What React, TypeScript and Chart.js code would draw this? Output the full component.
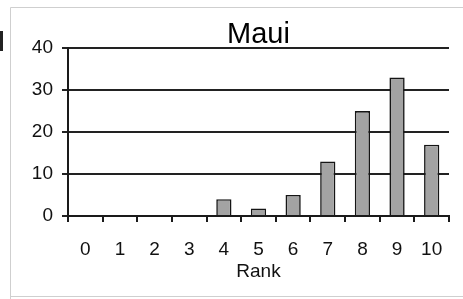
import React, { useEffect, useRef } from "react";
import { Chart, registerables } from "chart.js";

Chart.register(...registerables);

const chartTitle = "Maui";
const axisTitle = "Rank";
const categories = ["0", "1", "2", "3", "4", "5", "6", "7", "8", "9", "10"];
const counts = [0, 0, 0, 0, 4, 1.8, 5, 13, 25, 33, 17];
const yMin = 0;
const yMax = 40;
const yStep = 10;

const framePlugin = {
  id: "frame",
  beforeDraw(chart: any) {
    const ctx = chart.ctx;
    ctx.save();
    ctx.fillStyle = "#ffffff";
    ctx.fillRect(0, 0, chart.width, chart.height);
    ctx.strokeStyle = "#cfcfcf";
    ctx.lineWidth = 1;
    ctx.beginPath();
    ctx.moveTo(10.5, chart.height);
    ctx.lineTo(10.5, 7.5);
    ctx.lineTo(chart.width, 7.5);
    ctx.moveTo(10.5, 296.5);
    ctx.lineTo(chart.width, 296.5);
    ctx.stroke();
    ctx.fillStyle = "#222222";
    ctx.fillRect(0, 31, 3, 20);
    ctx.restore();
  },
};

const FONT = "Liberation Sans, Arial, sans-serif";

export default function App() {
  const ref = useRef<HTMLCanvasElement | null>(null);
  useEffect(() => {
    if (!ref.current) return;
    const chart = new Chart(ref.current, {
      type: "bar",
      data: {
        labels: categories,
        datasets: [
          {
            data: counts,
            backgroundColor: "#a3a3a3",
            borderColor: "#151515",
            borderWidth: 1.6,
            borderSkipped: "bottom",
            barPercentage: 0.44,
            categoryPercentage: 1,
          },
        ],
      },
      options: {
        animation: false,
        responsive: false,
        layout: { padding: { left: 10, right: 14, top: 0, bottom: 0 } },
        plugins: {
          legend: { display: false },
          tooltip: { enabled: false },
          title: {
            display: true,
            fullSize: false,
            align: "center",
            text: chartTitle,
            color: "#000000",
            font: { family: FONT, size: 29, weight: "normal", lineHeight: 0.9 },
            padding: { top: 22, bottom: 0 },
          },
        },
        scales: {
          x: {
            offset: true,
            grid: {
              offset: true,
              drawOnChartArea: false,
              drawTicks: true,
              tickLength: 6,
              color: "#1a1a1a",
              lineWidth: 2,
            },
            border: { display: true, color: "#1a1a1a", width: 2 },
            ticks: {
              color: "#111111",
              padding: 16,
              maxRotation: 0,
              autoSkip: false,
              font: { family: FONT, size: 19 },
            },
            title: {
              display: true,
              text: axisTitle,
              color: "#111111",
              padding: { top: 0, bottom: 16 },
              font: { family: FONT, size: 19 },
            },
            afterFit: (s: any) => {
              s.height = 83;
            },
          },
          y: {
            min: yMin,
            max: yMax,
            ticks: {
              stepSize: yStep,
              color: "#111111",
              padding: 9,
              font: { family: FONT, size: 19 },
            },
            grid: {
              color: "#222222",
              lineWidth: 2,
              tickLength: 6,
              drawTicks: true,
            },
            border: { display: true, color: "#1a1a1a", width: 2 },
            afterFit: (s: any) => {
              s.width = 58;
            },
          },
        },
      },
      plugins: [framePlugin],
    });
    return () => chart.destroy();
  }, []);
  return (
    <div style={{ position: "fixed", left: 0, top: 0, width: 463, height: 299 }}>
      <canvas ref={ref} width={463} height={299} />
    </div>
  );
}
